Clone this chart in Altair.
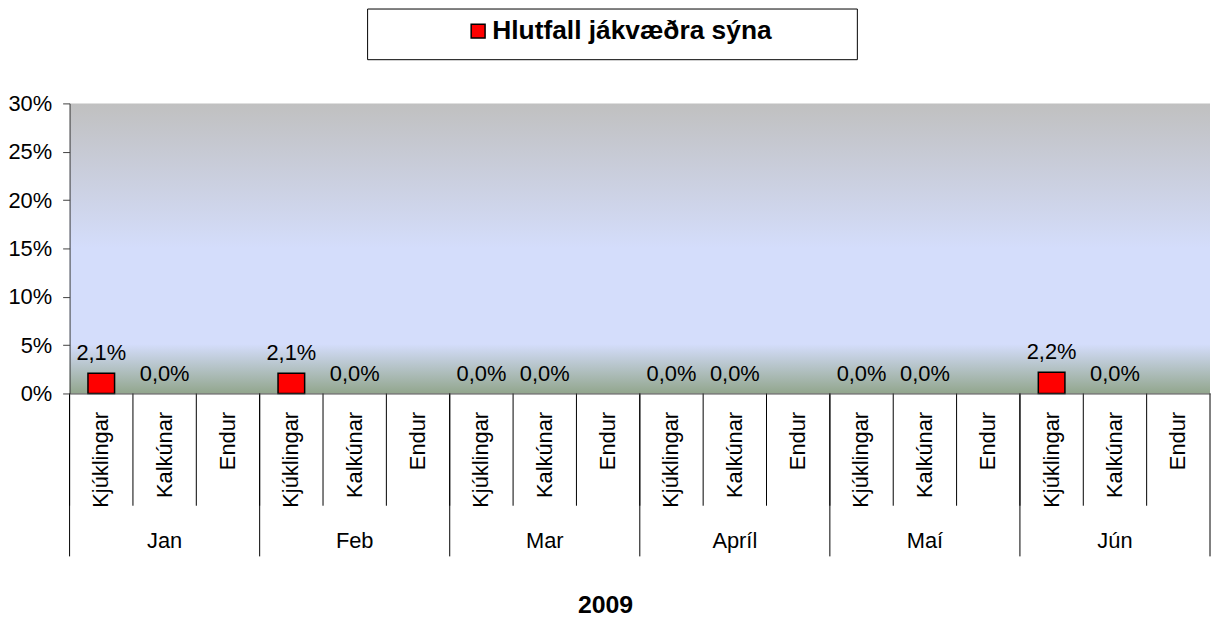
import altair as alt
import pandas as pd

months = ["Jan", "Feb", "Mar", "Apríl", "Maí", "Jún"]
categories = ["Kjúklingar", "Kalkúnar", "Endur"]
kjuklingar = [0.021, 0.021, 0.0, 0.0, 0.0, 0.022]
kalkunar = [0.0, 0.0, 0.0, 0.0, 0.0, 0.0]
endur = [None, None, None, None, None, None]
series_name = "Hlutfall jákvæðra sýna"
y_ticks = [0, 0.05, 0.10, 0.15, 0.20, 0.25, 0.30]

series_vals = {"Kjúklingar": kjuklingar, "Kalkúnar": kalkunar, "Endur": endur}
rows = []
for i, m in enumerate(months):
    for c in categories:
        rows.append({"key": f"{m}|{c}", "month": m, "cat": c,
                     "value": series_vals[c][i], "series": series_name})
df = pd.DataFrame(rows)
keys = list(df["key"])

W, H = 1148, 292
FONT = "Liberation Sans"

xenc = alt.X("key:N", sort=keys,
             scale=alt.Scale(paddingInner=0, paddingOuter=0),
             axis=alt.Axis(title="2009", labelExpr="split(datum.value, '|')[1]",
                           labelAngle=270, ticks=False, labelPadding=18,
                           labelFontSize=22, labelColor="black",
                           domainColor="#404040", domainWidth=1,
                           titleFontSize=25, titleFontWeight="bold",
                           titleY=212, titleX=539, titleBaseline="middle",
                           titleAlign="center", titleColor="black", zindex=1))
yscale = alt.Scale(domain=[0, 0.3], nice=False)
yaxis = alt.Axis(title=None, format=".0%", values=y_ticks, grid=False,
                 tickSize=7, labelPadding=11, labelFontSize=22, labelColor="black",
                 domainColor="#404040", tickColor="#404040", zindex=1)

gradient = {
    "gradient": "linear", "x1": 0, "y1": 0, "x2": 0, "y2": 1,
    "stops": [
        {"offset": 0, "color": "#c0c0c0"},
        {"offset": 0.5, "color": "#d4ddfb"},
        {"offset": 0.83, "color": "#d4ddfb"},
        {"offset": 1, "color": "#92a68d"},
    ],
}

base = alt.Chart(df)

bg = alt.Chart(pd.DataFrame({"a": [0]})).mark_rect(color=gradient).encode(
    x=alt.value(0), x2=alt.value(W), y=alt.value(0), y2=alt.value(H))

legend_box = alt.Chart(pd.DataFrame({"a": [0]})).mark_rect(
    fill="white", stroke="#000000", strokeWidth=1).encode(
    x=alt.value(300), x2=alt.value(793), y=alt.value(-95), y2=alt.value(-44))

bars = base.transform_filter("datum.value > 0").mark_bar(
    width=alt.RelativeBandSize(0.42), stroke="black", strokeWidth=1.5).encode(
    x=xenc,
    y=alt.Y("value:Q", scale=yscale, axis=yaxis),
    color=alt.Color("series:N", scale=alt.Scale(range=["#ff0000"]),
                    legend=alt.Legend(orient="none", legendX=398, legendY=-86,
                                      title=None, symbolType="square", symbolSize=196,
                                      symbolStrokeColor="black", symbolStrokeWidth=1.5,
                                      symbolFillColor="#ff0000",
                                      labelFontSize=26.5, labelFontWeight="bold",
                                      labelFont=FONT, labelColor="black",
                                      labelLimit=600,
                                      labelOffset=1, padding=0)),
)

labels = base.transform_filter("isValid(datum.value)").transform_calculate(
    lbl="replace(format(datum.value, '.1%'), '.', ',')").mark_text(
    dy=-20, fontSize=22, font=FONT, color="black", baseline="middle").encode(
    x=alt.X("key:N", sort=keys), y=alt.Y("value:Q", scale=yscale), text="lbl:N")

sub_sep = base.mark_rule(color="black", strokeWidth=1).encode(
    x=alt.X("key:N", sort=keys, bandPosition=0),
    y=alt.value(H), y2=alt.value(H + 113))

month_sep = base.transform_filter(f"datum.cat == '{categories[0]}'").mark_rule(
    color="black", strokeWidth=1).encode(
    x=alt.X("key:N", sort=keys, bandPosition=0),
    y=alt.value(H), y2=alt.value(H + 164))

end_sep = alt.Chart(pd.DataFrame({"a": [0]})).mark_rule(color="black", strokeWidth=1).encode(
    x=alt.value(W), y=alt.value(H), y2=alt.value(H + 164))

month_lbl = base.transform_filter(f"datum.cat == '{categories[1]}'").mark_text(
    fontSize=22, font=FONT, color="black", baseline="middle").encode(
    x=alt.X("key:N", sort=keys), y=alt.value(H + 149), text="month:N")

chart = alt.layer(bg, legend_box, bars, labels, sub_sep, month_sep, end_sep, month_lbl).properties(
    width=W, height=H,
    autosize=alt.AutoSizeParams(type="none"),
    padding={"left": 62, "top": 94, "right": 1, "bottom": 226},
).configure(font=FONT).configure_view(stroke=None)

chart.save("out.html", embed_options={"renderer": "svg", "actions": False})
